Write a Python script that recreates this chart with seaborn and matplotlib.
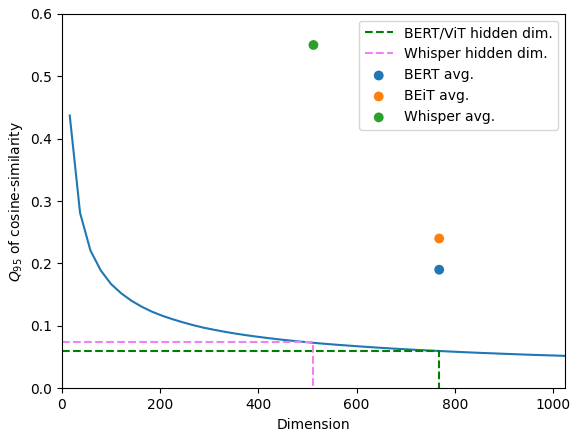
import numpy as np
import seaborn as sns
import matplotlib.pyplot as plt

# Q95 of cosine-similarity between random vectors
dims = [16 + 21 * k for k in range(49)]
q95 = [
    0.4370, 0.2810, 0.2210, 0.1890, 0.1670, 0.1520, 0.1400, 0.1305, 0.1225, 0.1160,
    0.1105, 0.1055, 0.1010, 0.0970, 0.0937, 0.0906, 0.0878, 0.0853, 0.0830, 0.0809,
    0.0789, 0.0771, 0.0754, 0.0738, 0.0723, 0.0709, 0.0696, 0.0684, 0.0672, 0.0661,
    0.0650, 0.0640, 0.0630, 0.0621, 0.0612, 0.0604, 0.0596, 0.0588, 0.0580, 0.0573,
    0.0566, 0.0560, 0.0553, 0.0547, 0.0541, 0.0535, 0.0530, 0.0525, 0.0519,
]

hidden_names = ["BERT/ViT hidden dim.", "Whisper hidden dim."]
hidden_dims = [768, 512]
hidden_q95 = [0.0605, 0.0735]
hidden_colors = ["green", "violet"]

model_names = ["BERT avg.", "BEiT avg.", "Whisper avg."]
model_dims = [768, 768, 512]
model_avgs = [0.19, 0.24, 0.55]
model_colors = ["#1f77b4", "#ff7f0e", "#2ca02c"]

fig, ax = plt.subplots(figsize=(5.73, 4.30), dpi=100)
fig.subplots_adjust(left=0.108, right=0.986, top=0.968, bottom=0.097)

sns.lineplot(x=dims, y=q95, ax=ax, color="#1f77b4")

for name, d, q, c in zip(hidden_names, hidden_dims, hidden_q95, hidden_colors):
    ax.plot([0, d, d], [q, q, 0], linestyle="--", color=c, label=name)

for name, d, v, c in zip(model_names, model_dims, model_avgs, model_colors):
    sns.scatterplot(x=[d], y=[v], ax=ax, color=c, s=50, edgecolor="none",
                    label=name)

ax.set_xlim(0, 1024)
ax.set_ylim(0, 0.6)
ax.set_xlabel("Dimension")
ax.set_ylabel("$Q_{95}$ of cosine-similarity")
ax.legend(loc="upper right")

fig.savefig("out.png")
